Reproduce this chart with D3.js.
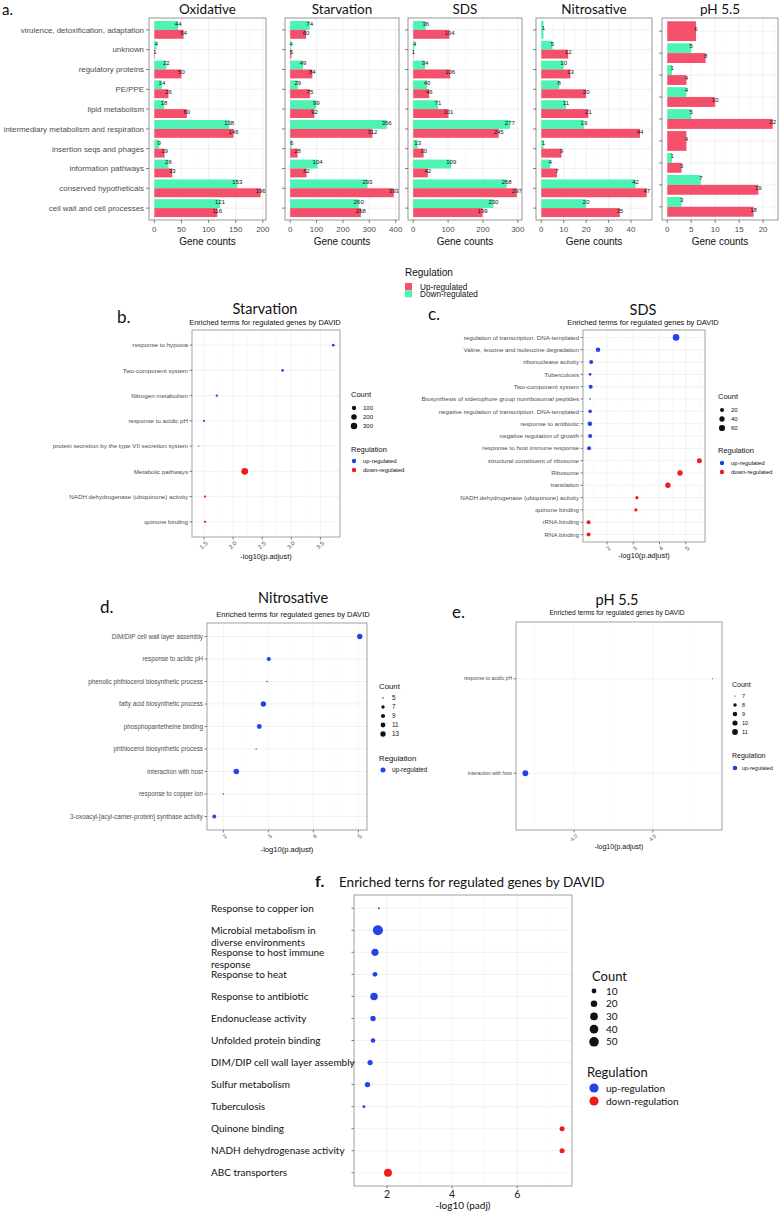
<!DOCTYPE html>
<html><head><meta charset="utf-8">
<script src="https://cdn.jsdelivr.net/npm/d3@7/dist/d3.min.js"></script>
<style>html,body{margin:0;padding:0;background:#fff;}svg{display:block;}</style>
</head><body>
<svg id="chart" width="779" height="1211"></svg>
<script>
// ================= DATA =================
// Panel a: functional categories (gene counts)
const categories = ["virulence, detoxification, adaptation","unknown","regulatory proteins","PE/PPE","lipid metabolism","intermediary metabolism and respiration","insertion seqs and phages","information pathways","conserved hypotheticals","cell wall and cell processes"];
const oxidativeUp    = [54,1,50,26,60,146,19,33,196,116];
const oxidativeDown  = [44,4,22,14,18,138,9,26,153,121];
const starvationUp   = [60,5,84,75,92,312,28,62,393,268];
const starvationDown = [74,4,49,29,99,366,6,104,293,260];
const sdsUp          = [104,1,106,46,101,245,30,42,297,199];
const sdsDown        = [36,4,34,40,71,277,13,109,268,230];
const nitroUp        = [null,12,13,20,21,44,9,7,47,35];
const nitroDown      = [1,5,10,8,11,19,1,4,42,20];
const phCategories   = ["virulence, detoxification, adaptation","regulatory proteins","PE/PPE","lipid metabolism","intermediary metabolism and respiration","insertion seqs and phages","information pathways","conserved hypotheticals","cell wall and cell processes"];
const phUp           = [6,8,4,10,22,4,3,19,18];
const phDown         = [null,5,1,4,5,null,1,7,3];
const oxTicks=[0,50,100,150,200], starvTicksA=[0,100,200,300,400], sdsTicksA=[0,100,200,300], nitroTicksA=[0,10,20,30,40], phTicksA=[0,5,10,15,20];

// Panel b: Starvation
const starvTerms = ["response to hypoxia","Two-component system","Nitrogen metabolism","response to acidic pH","protein secretion by the type VII secretion system","Metabolic pathways","NADH dehydrogenase (ubiquinone) activity","quinone binding"];
const starvScore = [3.72,2.85,1.72,1.50,1.41,2.20,1.52,1.52];
const starvCount = [25,25,14,11,5,330,14,14];
const starvReg   = ["up","up","up","up","up","down","down","down"];
const starvXTicks = [1.5,2.0,2.5,3.0,3.5];
const starvBreaks = [100,200,300];

// Panel c: SDS
const sdsTerms = ["regulation of transcription, DNA-templated","Valine, leucine and isoleucine degradation","ribonuclease activity","Tuberculosis","Two-component system","Biosynthesis of siderophore group nonribosomal peptides","negative regulation of transcription, DNA-templated","response to antibiotic","negative regulation of growth","response to host immune response","structural constituent of ribosome","Ribosome","translation","NADH dehydrogenase (ubiquinone) activity","quinone binding","rRNA binding","RNA binding"];
const sdsScore = [4.63,1.66,1.40,1.36,1.38,1.36,1.36,1.35,1.36,1.32,5.52,4.78,4.32,3.14,3.10,1.30,1.30];
const sdsCount = [70,28,20,8,20,5,15,28,20,20,35,43,43,12,12,20,20];
const sdsReg   = ["up","up","up","up","up","up","up","up","up","up","down","down","down","down","down","down","down"];
const sdsXTicks = [2,3,4,5];
const sdsBreaks = [20,40,60];

// Panel d: Nitrosative
const nitroTerms = ["DIM/DIP cell wall layer assembly","response to acidic pH","phenolic phthiocerol biosynthetic process","fatty acid biosynthetic process","phosphopantetheine binding","phthiocerol biosynthetic process","interaction with host","response to copper ion","3-oxoacyl-[acyl-carrier-protein] synthase activity"];
const nitroScore = [5.03,3.01,2.97,2.89,2.80,2.73,2.29,2.00,1.80];
const nitroCount = [13,9,5,13,11,5,14,5,8];
const nitroReg   = ["up","up","up","up","up","up","up","up","up"];
const nitroXTicks = [2,3,4,5];
const nitroBreaks = [5,7,9,11,13];

// Panel e: pH 5.5
const phTerms = ["response to acidic pH","interaction with host"];
const phScore = [4.88,3.69];
const phCount = [7,11];
const phReg   = ["up","up"];
const phXTicks = [4.0,4.5];
const phBreaks = [7,8,9,10,11];

// Panel f: combined
const combTerms = ["Response to copper ion","Microbial metabolism in\ndiverse environments","Response to host immune\nresponse","Response to heat","Response to antibiotic","Endonuclease activity","Unfolded protein binding","DIM/DIP cell wall layer assembly","Sulfur metabolism","Tuberculosis","Quinone binding","NADH dehydrogenase activity","ABC transporters"];
const combScore = [1.75,1.72,1.63,1.63,1.60,1.57,1.57,1.48,1.40,1.29,7.38,7.38,2.03];
const combCount = [3,55,25,10,28,13,9,12,13,4,11,11,32];
const combReg   = ["up","up","up","up","up","up","up","up","up","up","down","down","down"];
const combXTicks = [2,4,6];
const combBreaks = [10,20,30,40,50];

// ================= STYLE =================
const SANS = "'Liberation Sans', Arial, Helvetica, sans-serif";
const HUM = "Lato, 'Open Sans', sans-serif";
const UPC = "#F4506B", DOWNC = "#4CF3B3";
const BLUE = "#2342EA", RED = "#EE1C1C";
const GRID = "#e9e9e9", GRIDMINOR = "#f4f4f4", BORDER = "#8c8c8c", AXT = "#4d4d4d";

const svg = d3.select("#chart");
svg.append("rect").attr("width",779).attr("height",1211).attr("fill","#fff");

function txt(g,x,y,s,opt){
  const t=g.append("text").attr("x",x).attr("y",y).text(s)
    .attr("font-family",opt.ff||SANS).attr("font-size",opt.fs||8)
    .attr("fill",opt.fill||"#111").attr("text-anchor",opt.anchor||"start");
  if(opt.fw) t.attr("font-weight",opt.fw);
  return t;
}

// ================= PANEL a =================
const A_TOP=18, A_BOT=220;
function barPanel(o){
  const g=svg.append("g");
  const max=d3.max([...o.up,...o.down].filter(v=>v!=null));
  const x=d3.scaleLinear().domain([-0.05*max,1.05*max]).range([o.l,o.r]);
  const y=d3.scalePoint().domain(o.cats).range([A_TOP,A_BOT]).padding(0.6);
  const bw=0.45*y.step();
  const st=o.ticks[1]-o.ticks[0], dom=x.domain();
  const minors=[]; [o.ticks[0]-st,...o.ticks].forEach(t=>{const m=t+st/2; if(m>dom[0]&&m<dom[1]) minors.push(m);});
  g.selectAll("line.mn").data(minors).join("line").attr("class","mn")
    .attr("x1",d=>x(d)).attr("x2",d=>x(d)).attr("y1",A_TOP).attr("y2",A_BOT).attr("stroke",GRIDMINOR).attr("stroke-width",0.5);
  g.selectAll("line.mj").data(o.ticks).join("line").attr("class","mj")
    .attr("x1",d=>x(d)).attr("x2",d=>x(d)).attr("y1",A_TOP).attr("y2",A_BOT).attr("stroke",GRID).attr("stroke-width",0.7);
  g.selectAll("line.hz").data(o.cats).join("line").attr("class","hz")
    .attr("x1",o.l).attr("x2",o.r).attr("y1",d=>y(d)).attr("y2",d=>y(d)).attr("stroke",GRID).attr("stroke-width",0.7);
  // bars
  const bars=[];
  o.cats.forEach((c,i)=>{
    const u=o.up[i], d=o.down[i], cy=y(c);
    if(u!=null&&d!=null){
      bars.push({v:d,y0:cy-bw,h:bw,col:DOWNC});
      bars.push({v:u,y0:cy,h:bw,col:UPC});
    } else if(d!=null){ bars.push({v:d,y0:cy-bw,h:2*bw,col:DOWNC}); }
    else if(u!=null){ bars.push({v:u,y0:cy-bw,h:2*bw,col:UPC}); }
  });
  g.selectAll("rect.bar").data(bars).join("rect").attr("class","bar")
    .attr("x",x(0)).attr("y",d=>d.y0).attr("width",d=>Math.max(0,x(d.v)-x(0))).attr("height",d=>d.h).attr("fill",d=>d.col);
  g.selectAll("text.val").data(bars).join("text").attr("class","val")
    .attr("x",d=>x(d.v)).attr("y",d=>d.y0+d.h/2+0.3).text(d=>d.v)
    .attr("font-family",SANS).attr("font-size",6).attr("fill","#111").attr("text-anchor","middle");
  g.append("rect").attr("x",o.l).attr("y",A_TOP).attr("width",o.r-o.l).attr("height",A_BOT-A_TOP)
    .attr("fill","none").attr("stroke",BORDER).attr("stroke-width",0.9);
  // axes
  g.selectAll("line.xt").data(o.ticks).join("line").attr("class","xt")
    .attr("x1",d=>x(d)).attr("x2",d=>x(d)).attr("y1",A_BOT).attr("y2",A_BOT+3).attr("stroke","#333").attr("stroke-width",0.6);
  g.selectAll("text.xl").data(o.ticks).join("text").attr("class","xl")
    .attr("x",d=>x(d)).attr("y",A_BOT+12).text(d=>d)
    .attr("font-family",SANS).attr("font-size",8).attr("fill",AXT).attr("text-anchor","middle");
  g.selectAll("line.yt").data(o.cats).join("line").attr("class","yt")
    .attr("x1",o.l-3).attr("x2",o.l).attr("y1",d=>y(d)).attr("y2",d=>y(d)).attr("stroke","#333").attr("stroke-width",0.6);
  if(o.labels){
    g.selectAll("text.yl").data(o.cats).join("text").attr("class","yl")
      .attr("x",o.l-5).attr("y",d=>y(d)+2.8).text(d=>d)
      .attr("font-family",SANS).attr("font-size",7.9).attr("fill",AXT).attr("text-anchor","end");
  }
  txt(g,(o.l+o.r)/2,13.5,o.title,{ff:HUM,fs:13.5,anchor:"middle",fill:"#111"});
  txt(g,(o.l+o.r)/2,245,"Gene counts",{fs:10,anchor:"middle",fill:"#111"});
}
txt(svg,2,15,"a.",{ff:HUM,fs:15,fill:"#111"});
barPanel({l:149,r:266,cats:categories,up:oxidativeUp,down:oxidativeDown,ticks:oxTicks,title:"Oxidative",labels:true});
barPanel({l:285,r:399,cats:categories,up:starvationUp,down:starvationDown,ticks:starvTicksA,title:"Starvation"});
barPanel({l:408,r:522,cats:categories,up:sdsUp,down:sdsDown,ticks:sdsTicksA,title:"SDS"});
barPanel({l:536,r:652,cats:categories,up:nitroUp,down:nitroDown,ticks:nitroTicksA,title:"Nitrosative"});
barPanel({l:662,r:778,cats:phCategories,up:phUp,down:phDown,ticks:phTicksA,title:"pH 5.5"});
// legend a
{
  const g=svg.append("g");
  txt(g,405,276,"Regulation",{fs:10,fill:"#111"});
  const items=[["Up-regulated",UPC],["Down-regulated",DOWNC]];
  g.selectAll("rect.lg").data(items).join("rect").attr("class","lg")
    .attr("x",405).attr("y",(d,i)=>283+i*7.3).attr("width",7).attr("height",7).attr("fill",d=>d[1]);
  g.selectAll("text.lg").data(items).join("text").attr("class","lg")
    .attr("x",420).attr("y",(d,i)=>289.5+i*7.3).text(d=>d[0])
    .attr("font-family",SANS).attr("font-size",8.2).attr("fill","#111");
}

// ================= DOT PANELS =================
function dotPanel(o){
  const g=svg.append("g");
  const ext=d3.extent(o.score), pad=(ext[1]-ext[0])*0.05;
  const x=d3.scaleLinear().domain([ext[0]-pad,ext[1]+pad]).range([o.l,o.r]);
  const y=d3.scalePoint().domain(o.terms).range([o.t,o.b]).padding(0.6);
  const frac=d3.scaleLinear().domain([o.cmin,o.cmax]).range([0,1]).clamp(true);
  const rad=c=>o.rmin+(o.rmax-o.rmin)*Math.sqrt(frac(c));
  const dom=x.domain(), st=o.ticks[1]-o.ticks[0];
  const minors=[]; [o.ticks[0]-st,...o.ticks].forEach(t=>{const m=t+st/2; if(m>dom[0]&&m<dom[1]) minors.push(m);});
  g.selectAll("line.mn").data(minors).join("line").attr("class","mn")
    .attr("x1",d=>x(d)).attr("x2",d=>x(d)).attr("y1",o.t).attr("y2",o.b).attr("stroke",GRIDMINOR).attr("stroke-width",0.5);
  g.selectAll("line.mj").data(o.ticks).join("line").attr("class","mj")
    .attr("x1",d=>x(d)).attr("x2",d=>x(d)).attr("y1",o.t).attr("y2",o.b).attr("stroke",GRID).attr("stroke-width",0.6);
  g.selectAll("line.hz").data(o.terms).join("line").attr("class","hz")
    .attr("x1",o.l).attr("x2",o.r).attr("y1",d=>y(d)).attr("y2",d=>y(d)).attr("stroke",GRID).attr("stroke-width",0.6);
  g.selectAll("circle.pt").data(o.terms).join("circle").attr("class","pt")
    .attr("cx",(d,i)=>x(o.score[i])).attr("cy",d=>y(d)).attr("r",(d,i)=>rad(o.count[i]))
    .attr("fill",(d,i)=>o.reg[i]==="up"?BLUE:RED);
  g.append("rect").attr("x",o.l).attr("y",o.t).attr("width",o.r-o.l).attr("height",o.b-o.t)
    .attr("fill","none").attr("stroke",BORDER).attr("stroke-width",0.8);
  // y axis
  g.selectAll("line.yt").data(o.terms).join("line").attr("class","yt")
    .attr("x1",o.l-2.5).attr("x2",o.l).attr("y1",d=>y(d)).attr("y2",d=>y(d)).attr("stroke","#333").attr("stroke-width",0.6);
  if(o.big){
    const tl=g.selectAll("text.yl").data(o.terms).join("text").attr("class","yl")
      .attr("x",o.labelX).attr("y",d=>y(d)+3.5)
      .attr("font-family",HUM).attr("font-size",o.yfs).attr("fill","#111");
    tl.each(function(d){
      const s=d3.select(this);
      d.split("\n").forEach((line,k)=>s.append("tspan").attr("x",o.labelX).attr("dy",k?12:0).text(line));
    });
  } else {
    g.selectAll("text.yl").data(o.terms).join("text").attr("class","yl")
      .attr("x",o.l-4).attr("y",d=>y(d)+o.yfs*0.35).text(d=>d)
      .attr("font-family",SANS).attr("font-size",o.yfs).attr("fill",AXT).attr("text-anchor","end");
  }
  // x axis
  g.selectAll("line.xt").data(o.ticks).join("line").attr("class","xt")
    .attr("x1",d=>x(d)).attr("x2",d=>x(d)).attr("y1",o.b).attr("y2",o.b+2.5).attr("stroke","#333").attr("stroke-width",0.6);
  if(o.big){
    g.selectAll("text.xl").data(o.ticks).join("text").attr("class","xl")
      .attr("x",d=>x(d)).attr("y",o.b+11.5).text(d3.format(o.fmt))
      .attr("font-family",HUM).attr("font-size",10.5).attr("fill","#222").attr("text-anchor","middle");
  } else {
    g.selectAll("text.xl").data(o.ticks).join("text").attr("class","xl")
      .attr("transform",d=>`translate(${x(d)+1.5},${o.b+4}) rotate(-45)`).text(d3.format(o.fmt))
      .attr("font-family",SANS).attr("font-size",o.xfs).attr("fill",AXT).attr("text-anchor","end").attr("dy","0.6em");
  }
  txt(g,(o.l+o.r)/2,o.xtitleY,o.xtitle,{ff:o.big?HUM:SANS,fs:o.xtfs,anchor:"middle",fill:"#111"});
  // titles
  if(o.title) txt(g,o.titleX,o.titleY,o.title,{ff:HUM,fs:14.5,anchor:"middle",fill:"#111"});
  if(o.sub) txt(g,o.titleX,o.subY,o.sub,{fs:o.subfs,anchor:"middle",fill:"#111"});
  // legend
  const L=o.leg, lg=g.append("g");
  if(L.clip){
    const id="clip"+Math.round(o.l);
    svg.append("defs").append("clipPath").attr("id",id).append("rect").attr("x",0).attr("y",0).attr("width",L.clip).attr("height",1211);
    lg.attr("clip-path",`url(#${id})`);
  }
  txt(lg,L.x,L.cy,"Count",{ff:o.big?HUM:SANS,fs:L.tfs,fill:"#111"});
  lg.selectAll("circle.lc").data(o.breaks).join("circle").attr("class","lc")
    .attr("cx",L.x+L.dx).attr("cy",(d,i)=>L.cy+L.first+i*L.step).attr("r",d=>rad(d)).attr("fill","#111");
  lg.selectAll("text.lc").data(o.breaks).join("text").attr("class","lc")
    .attr("x",L.x+L.tx).attr("y",(d,i)=>L.cy+L.first+i*L.step+L.lfs*0.35).text(d=>d)
    .attr("font-family",o.big?HUM:SANS).attr("font-size",L.lfs).attr("fill","#111");
  txt(lg,L.rx!==undefined?L.rx:L.x,L.ry,"Regulation",{ff:o.big?HUM:SANS,fs:L.tfs,fill:"#111"});
  lg.selectAll("circle.lr").data(L.regs).join("circle").attr("class","lr")
    .attr("cx",L.x+L.dx).attr("cy",(d,i)=>L.ry+L.rfirst+i*L.rstep).attr("r",L.rr).attr("fill",d=>d[1]);
  lg.selectAll("text.lr").data(L.regs).join("text").attr("class","lr")
    .attr("x",L.x+L.tx).attr("y",(d,i)=>L.ry+L.rfirst+i*L.rstep+L.lfs*0.35).text(d=>d[0])
    .attr("font-family",o.big?HUM:SANS).attr("font-size",L.lfs).attr("fill","#111");
}

const SUB="Enriched terms for regulated genes by DAVID";
// b
txt(svg,117,323,"b.",{ff:HUM,fs:17,fill:"#111"});
dotPanel({l:192,r:340,t:330,b:537,terms:starvTerms,score:starvScore,count:starvCount,reg:starvReg,
  ticks:starvXTicks,fmt:".1f",cmin:5,cmax:330,rmin:0.7,rmax:3.4,breaks:starvBreaks,yfs:6.2,xfs:6,
  xtitle:"-log10(p.adjust)",xtitleY:559,xtfs:7.4,title:"Starvation",titleX:265,titleY:314,sub:SUB,subY:325,subfs:7.5,
  leg:{x:351,cy:397,dx:3,tx:12,first:11,step:9,tfs:7.5,lfs:6,ry:452,rfirst:9,rstep:9,rr:2.2,clip:407,
    regs:[["up-regulated",BLUE],["down-regulated",RED]]}});
// c
txt(svg,428,320,"c.",{ff:HUM,fs:17,fill:"#111"});
dotPanel({l:583,r:705,t:330,b:542,terms:sdsTerms,score:sdsScore,count:sdsCount,reg:sdsReg,
  ticks:sdsXTicks,fmt:"d",cmin:5,cmax:70,rmin:0.8,rmax:3.3,breaks:sdsBreaks,yfs:6.2,xfs:6,
  xtitle:"-log10(p.adjust)",xtitleY:558,xtfs:7.4,title:"SDS",titleX:643,titleY:315,sub:SUB,subY:325,subfs:7.5,
  leg:{x:718,cy:399,dx:4,tx:13,first:11,step:9,tfs:7.5,lfs:6,ry:453,rfirst:10,rstep:9,rr:2.2,
    regs:[["up-regulated",BLUE],["down-regulated",RED]]}});
// d
txt(svg,100,613,"d.",{ff:HUM,fs:17,fill:"#111"});
dotPanel({l:207,r:367,t:623,b:830,terms:nitroTerms,score:nitroScore,count:nitroCount,reg:nitroReg,
  ticks:nitroXTicks,fmt:"d",cmin:5,cmax:14,rmin:0.7,rmax:2.8,breaks:nitroBreaks,yfs:6.3,xfs:6,
  xtitle:"-log10(p.adjust)",xtitleY:852,xtfs:7.6,title:"Nitrosative",titleX:293,titleY:603,sub:SUB,subY:617,subfs:7.6,
  leg:{x:379,cy:689,dx:4,tx:13,first:9,step:9,tfs:7.8,lfs:6.3,ry:761,rfirst:9,rstep:9,rr:2.5,
    regs:[["up-regulated",BLUE]]}});
// e
txt(svg,452,618,"e.",{ff:HUM,fs:17,fill:"#111"});
dotPanel({l:516,r:722,t:622,b:830,terms:phTerms,score:phScore,count:phCount,reg:phReg,
  ticks:phXTicks,fmt:".1f",cmin:7,cmax:11,rmin:0.6,rmax:2.9,breaks:phBreaks,yfs:5,xfs:5.5,
  xtitle:"-log10(p.adjust)",xtitleY:849,xtfs:7,title:"pH 5.5",titleX:617,titleY:605,sub:SUB,subY:615,subfs:6.7,
  leg:{x:732,cy:687,dx:3,tx:10,first:9,step:9,tfs:7,lfs:5.5,ry:758,rfirst:10,rstep:9,rr:2.3,
    regs:[["up-regulated",BLUE]]}});
// f
txt(svg,315,887,"f.",{ff:HUM,fs:16,fw:"bold",fill:"#111"});
txt(svg,339,887,"Enriched terns for regulated genes by DAVID",{ff:HUM,fs:13.5,fill:"#111"});
dotPanel({l:354,r:572,t:895,b:1186,terms:combTerms,score:combScore,count:combCount,reg:combReg,
  ticks:combXTicks,fmt:"d",cmin:3,cmax:55,rmin:0.9,rmax:5.0,breaks:combBreaks,yfs:10,big:true,labelX:211,
  xtitle:"-log10 (padj)",xtitleY:1208.5,xtfs:10,
  leg:{x:592,cy:981,dx:2,tx:14,first:10,step:12.7,tfs:13,lfs:10,rx:587,ry:1077,rfirst:11,rstep:13,rr:4.6,
    regs:[["up-regulation",BLUE],["down-regulation",RED]]}});
</script>
</body></html>
